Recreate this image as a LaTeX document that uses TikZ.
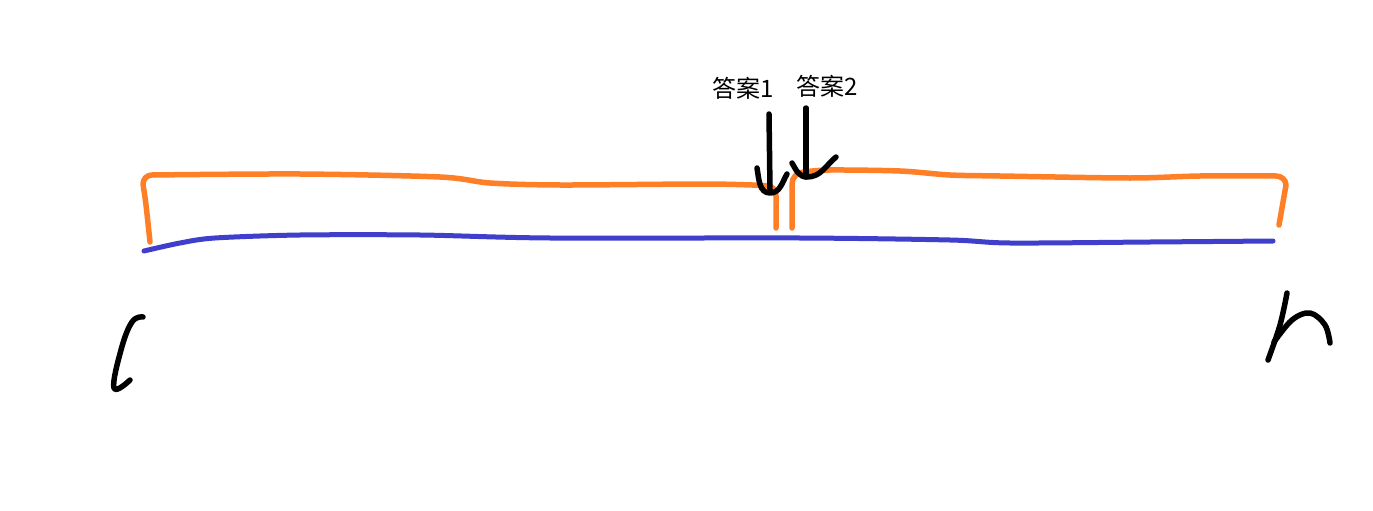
\documentclass[tikz,border=0pt]{standalone}
\usepackage{fontspec}
\newfontfamily\cjk{Noto Sans CJK SC}
\definecolor{inkorange}{RGB}{255,127,39}
\definecolor{inkblue}{RGB}{63,63,204}
\tikzset{
  inkstroke/.style={line width=5pt, line cap=round, line join=round},
  orangeink/.style={inkstroke, draw=inkorange, line width=5.5pt},
  blueink/.style={inkstroke, draw=inkblue},
  blackink/.style={inkstroke, draw=black, line width=5.5pt},
  lbl/.style={font=\cjk\fontsize{24}{28}\selectfont, inner sep=0pt, anchor=center}
}
\begin{document}
\begin{tikzpicture}[x=1pt,y=-1pt]
\useasboundingbox[fill=white] (0,0) rectangle (1373,511);
% blue base line
\draw[blueink] plot[smooth, tension=0.5] coordinates {(144,251) (180,243) (215,238) (300,235) (420,235) (550,238) (800,238) (950,240) (1010,243) (1150,242) (1273,241)};
% left orange part
\draw[orangeink] plot[smooth, tension=0.5] coordinates {(150,242) (146,205) (143,184)}
  to[out=90,in=180] (152,175)
  plot[smooth, tension=0.5] coordinates {(152,175) (300,174) (440,177) (490,183) (560,185) (700,184) (752,185) (768,186)}
  to[out=0,in=90] (776,196) -- (776,228);
% right orange part
\draw[orangeink] (792,228) -- (792,184) to[out=90,in=180] (804,172)
  plot[smooth, tension=0.5] coordinates {(804,172) (830,170) (900,171) (950,175) (1000,176) (1130,178) (1200,176) (1276,176)}
  to[out=0,in=90] (1286,185) -- (1279,225);
% labels
\node[lbl] (a1) at (743,88) {答案1};
\node[lbl] (a2) at (827,86) {答案2};
% arrow 1
\draw[blackink] (769,114) -- (770,190);
\draw[blackink] (757,168) to[out=-80,in=180] (770,193) to[out=0,in=-120] (787,174);
% arrow 2
\draw[blackink] (806,108) -- (806,177);
\draw[blackink] (792,163) to[out=-60,in=180] (807,177) to[out=0,in=-140] (836,157);
% letter l
\draw[blackink] plot[smooth, tension=0.7] coordinates {(143,317) (132,322) (121,350) (114,388) (130,380)};
% letter r
\draw[blackink] plot[smooth, tension=0.6] coordinates {(1287,293) (1280,325) (1268,360)};
\draw[blackink] plot[smooth, tension=0.6] coordinates {(1274,342) (1292,320) (1310,313) (1325,325) (1330,343)};
\end{tikzpicture}
\end{document}
